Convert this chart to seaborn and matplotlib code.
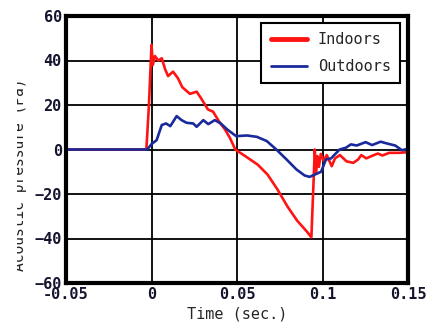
import pandas as pd
import numpy as np
import matplotlib.pyplot as plt
import seaborn as sns
from matplotlib.patches import Rectangle

# Indoors (red) trace
t_in = [-0.05, -0.003, -0.0015, 0.0, 0.0008, 0.002, 0.004, 0.006, 0.008, 0.0097,
        0.0126, 0.0155, 0.018, 0.0225, 0.0264, 0.029, 0.033, 0.036, 0.040, 0.043,
        0.046, 0.049, 0.0564, 0.0621, 0.0679, 0.0737, 0.0795, 0.0852, 0.091, 0.0935,
        0.0955, 0.0962, 0.0970, 0.0979, 0.0990, 0.1006, 0.1025, 0.1054, 0.1073, 0.1102,
        0.114, 0.118, 0.1208, 0.1227, 0.1256, 0.1285, 0.1324, 0.135, 0.139, 0.1447, 0.15]
p_in = [0, 0, 20, 47, 38, 42, 40, 41, 36, 33,
        35, 32, 28, 25, 26, 23, 18, 17, 12, 9,
        5, 0, -3.8, -6.8, -11.3, -18, -25.6, -32, -37, -39.5,
        0, -10, -3, -7.8, -2, -5, -2.5, -7.5, -4, -2.5,
        -5.3, -6, -4.5, -2.5, -4, -3, -1.8, -2.7, -1.5, -1.5, -1.2]

# Outdoors (blue) trace
t_out = [-0.05, -0.0025, 0.0001, 0.003, 0.006, 0.0085, 0.011, 0.0147, 0.0176, 0.0205,
         0.0244, 0.0264, 0.0303, 0.0332, 0.037, 0.0405, 0.0443, 0.0495, 0.0558, 0.0616,
         0.0674, 0.073, 0.079, 0.0848, 0.0896, 0.0925, 0.0954, 0.0992, 0.102, 0.105,
         0.110, 0.1137, 0.1166, 0.12, 0.1252, 0.129, 0.134, 0.1377, 0.1425, 0.1464, 0.15]
p_out = [0, 0, 2.5, 4.2, 11, 11.7, 10.5, 15, 13.2, 12,
         11.7, 10.2, 13.2, 11.4, 13.2, 11.7, 9, 6, 6.3, 5.7,
         3.8, 0, -4.5, -9, -11.7, -12.3, -11.3, -10, -4.5, -4,
         0, 0.8, 2.3, 1.8, 3.3, 2, 3.5, 2.7, 1.8, -0.3, 0.3]

x_ticks = [-0.05, 0, 0.05, 0.1, 0.15]
x_tick_labels = ['-0.05', '0', '0.05', '0.1', '0.15']
y_ticks = [-60, -40, -20, 0, 20, 40, 60]

df = pd.concat([
    pd.DataFrame({'Time': t_in, 'Pressure': p_in, 'Place': 'Indoors'}),
    pd.DataFrame({'Time': t_out, 'Pressure': p_out, 'Place': 'Outdoors'}),
])

sns.set_style('white')
mono = 'DejaVu Sans Mono'
ink = '#151530'

fig = plt.figure(figsize=(4.33, 3.31), dpi=100)
ax = fig.add_axes([66 / 433, 1 - 283 / 331, 342 / 433, 267 / 331])

sns.lineplot(data=df, x='Time', y='Pressure', hue='Place',
             palette={'Indoors': '#ff1414', 'Outdoors': '#1a2a9c'},
             estimator=None, sort=False, linewidth=1.9, ax=ax, legend=False)

ax.set_xlim(-0.05, 0.15)
ax.set_ylim(-60, 60)
ax.set_xticks(x_ticks)
ax.set_xticklabels(x_tick_labels)
ax.set_yticks(y_ticks)
ax.grid(True, color='black', linewidth=1.3)
ax.set_axisbelow(True)
for s in ax.spines.values():
    s.set_visible(True)
    s.set_color('black')
    s.set_linewidth(3)
ax.tick_params(length=0, pad=3, labelsize=11, labelcolor=ink)
for lab in ax.get_xticklabels() + ax.get_yticklabels():
    lab.set_family(mono)
    lab.set_fontweight('bold')

ax.set_xlabel('Time (sec.)', family=mono, fontsize=11, labelpad=3)
ax.set_ylabel('')
fig.text(20 / 433, 1 - 175 / 331, 'Acoustic pressure (Pa)', rotation=90,
         ha='center', va='center', family=mono, fontsize=10.5)
fig.patches.append(Rectangle((0, 0.1), 17 / 433, 0.85, transform=fig.transFigure,
                             facecolor='white', edgecolor='none', zorder=10))

h1, = ax.plot([], [], color='#ff1414', linewidth=3.5, label='Indoors')
h2, = ax.plot([], [], color='#1a2a9c', linewidth=2.0, label='Outdoors')
leg = ax.legend(handles=[h1, h2], loc='upper right', bbox_to_anchor=(0.977, 0.974),
                borderaxespad=0, prop={'family': mono, 'size': 11}, fancybox=False,
                framealpha=1, edgecolor='black', handlelength=2.4,
                borderpad=0.6, labelspacing=0.8, handletextpad=0.7)
leg.get_frame().set_linewidth(1.5)

fig.savefig('out.png', dpi=100)
